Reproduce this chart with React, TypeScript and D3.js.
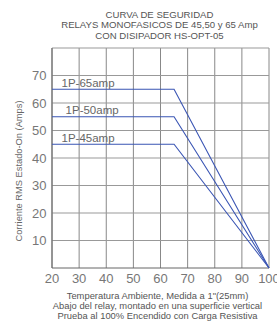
import React from "react";
import * as d3 from "d3";

const titleLines = [
  "CURVA DE SEGURIDAD",
  "RELAYS MONOFASICOS DE 45,50 y 65 Amp",
  "CON DISIPADOR HS-OPT-05"
];
const footLines = [
  "Temperatura Ambiente, Medida a 1\"(25mm)",
  "Abajo del relay, montado en una superficie vertical",
  "Prueba al 100% Encendido con Carga Resistiva"
];
const yLabel = "Corriente RMS Estado-On (Amps)";

const xTicks = [20, 30, 40, 50, 60, 70, 80, 90, 100];
const yTicks = [10, 20, 30, 40, 50, 60, 70];
const yGrid = [10, 20, 30, 40, 50, 60, 70, 80];

// each series: flat current up to the derating knee, then down to zero at 100C
const seriesNames = ["1P-65amp", "1P-50amp", "1P-45amp"];
const seriesTemps = [20, 65, 100];
const series65 = [65, 65, 0];
const series55 = [55, 55, 0];
const series45 = [45, 45, 0];
const allSeries = [series65, series55, series45];
// label anchor (temperature, value) for each curve label
const labelTemps = [23.5, 25, 23.5];
const labelVals = [66, 56, 46];

const W = 277;
const H = 321;
const font = "'Liberation Sans', Arial, sans-serif";

export default function App() {
  const x = d3.scaleLinear().domain([20, 100]).range([52, 269]);
  const y = d3.scaleLinear().domain([0, 80]).range([268, 48]);

  const line = d3
    .line<number>()
    .x((_, i) => x(seriesTemps[i]))
    .y(d => y(d));

  return (
    <svg
      width={W}
      height={H}
      style={{ position: "absolute", left: 0, top: 0, background: "#fff" }}
    >
      <rect width={W} height={H} fill="#fff" />
      {titleLines.map((t, i) => (
        <text
          key={t}
          x={159.5}
          y={18 + i * 10.4}
          textAnchor="middle"
          fontFamily={font}
          fontSize={9.6}
          fill="#555"
        >
          {t}
        </text>
      ))}

      {/* grid */}
      {xTicks.map(t => (
        <line
          key={"vx" + t}
          x1={x(t)}
          x2={x(t)}
          y1={y(80)}
          y2={y(0)}
          stroke="#888"
          strokeWidth={1}
        />
      ))}
      {yGrid.map(t => (
        <line
          key={"hy" + t}
          x1={x(20)}
          x2={x(100)}
          y1={y(t)}
          y2={y(t)}
          stroke="#999"
          strokeWidth={1}
        />
      ))}
      <line x1={x(20)} x2={x(20)} y1={y(80)} y2={y(0)} stroke="#666" />
      <line x1={x(20)} x2={x(100)} y1={y(0)} y2={y(0)} stroke="#666" />

      {/* curves */}
      {allSeries.map((s, i) => (
        <path
          key={seriesNames[i]}
          d={line(s) || ""}
          fill="none"
          stroke="#3a55b4"
          strokeWidth={1.1}
        />
      ))}
      {seriesNames.map((n, i) => (
        <text
          key={"l" + n}
          x={x(labelTemps[i])}
          y={y(labelVals[i])}
          fontFamily={font}
          fontSize={11.5}
          fill="#666"
        >
          {n}
        </text>
      ))}

      {/* y ticks */}
      {yTicks.map(t => (
        <text
          key={"yt" + t}
          x={46.5}
          y={y(t) + 4.5}
          textAnchor="end"
          fontFamily={font}
          fontSize={13}
          fill="#777"
        >
          {t}
        </text>
      ))}
      {xTicks.map(t => (
        <text
          key={"xt" + t}
          x={x(t)}
          y={283}
          textAnchor="middle"
          fontFamily={font}
          fontSize={13}
          fill="#777"
        >
          {t}
        </text>
      ))}

      <text
        transform={`translate(21.5,171) rotate(-90)`}
        textAnchor="middle"
        fontFamily={font}
        fontSize={9.3}
        fill="#666"
      >
        {yLabel}
      </text>

      {footLines.map((t, i) => (
        <text
          key={t}
          x={157.5}
          y={298.5 + i * 10}
          textAnchor="middle"
          fontFamily={font}
          fontSize={9.4}
          fill="#555"
        >
          {t}
        </text>
      ))}
    </svg>
  );
}
